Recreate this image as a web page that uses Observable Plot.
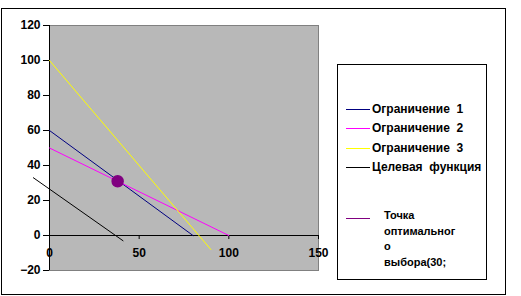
<!DOCTYPE html>
<html>
<head>
<meta charset="utf-8">
<script src="https://cdn.jsdelivr.net/npm/d3@7"></script>
<script src="https://cdn.jsdelivr.net/npm/@observablehq/plot@0.6"></script>
<style>
  html, body { margin: 0; padding: 0; background: #fff; }
  #wrap { position: relative; width: 521px; height: 296px; font-family: "Liberation Sans", Arial, sans-serif; }
  #outer { position: absolute; left: 1px; top: 8px; width: 505px; height: 287px; box-sizing: border-box; border: 1px solid #000; pointer-events: none; }
  #legend { position: absolute; left: 337px; top: 64px; width: 150px; height: 216px; box-sizing: border-box; border: 1px solid #000; background: #fff; }
  .sw { position: absolute; left: 8px; width: 24px; height: 0; border-top: 1px solid; }
  .lt { position: absolute; left: 34px; font-weight: bold; font-size: 12px; white-space: pre; line-height: 14px; color: #000; }
  .lt2 { position: absolute; left: 46px; font-weight: bold; font-size: 11px; line-height: 15.5px; color: #000; }
</style>
</head>
<body>
<div id="wrap"><div id="chart"></div><div id="outer"></div><div id="legend"></div></div>
<script>
const seriesNames = ["Ограничение  1", "Ограничение  2", "Ограничение  3", "Целевая  функция"];
const seriesColors = ["#000080", "#ff00ff", "#ffff00", "#000000"];
const c1X = [0, 80],  c1Y = [60, 0];
const c2X = [0, 100], c2Y = [50, 0];
const c3X = [0, 90],  c3Y = [100, -8];
const objX = [-9, 41], objY = [33, -3];
const optX = [38], optY = [31];
const optName = ["Точка", "оптимальног", "о", "выбора(30;"];
const optColor = "#800080";
const xTicks = [0, 50, 100, 150];
const yTicks = [-20, 0, 20, 40, 60, 80, 100, 120];

const toPts = (xs, ys) => xs.map((x, i) => ({x, y: ys[i]}));
const lines = [toPts(c1X, c1Y), toPts(c2X, c2Y), toPts(c3X, c3Y), toPts(objX, objY)];

const defsMark = () => {
  const g = document.createElementNS("http://www.w3.org/2000/svg", "g");
  g.innerHTML = `<defs><pattern id="halftone" patternUnits="userSpaceOnUse" width="2" height="2">
    <rect width="2" height="2" fill="#a4a4a4"/><rect x="1" y="1" width="1" height="1" fill="#f4f4f4"/></pattern></defs>`;
  return g;
};

const chart = Plot.plot({
  width: 521, height: 296,
  marginLeft: 49, marginRight: 203, marginTop: 25, marginBottom: 26,
  style: {background: "transparent", fontFamily: "'Liberation Sans', Arial, sans-serif", color: "#000", overflow: "visible"},
  x: {domain: [0, 150], axis: null},
  y: {domain: [-20, 120], axis: null},
  marks: [
    defsMark,
    Plot.frame({fill: "url(#halftone)", stroke: null}),
    Plot.frame({stroke: "#808080", strokeWidth: 1, anchor: "top"}),
    Plot.frame({stroke: "#808080", strokeWidth: 1, anchor: "right"}),
    Plot.frame({stroke: "#808080", strokeWidth: 1, anchor: "bottom"}),
    Plot.axisY({ticks: yTicks, label: null, tickSize: 6, tickPadding: 3, fontWeight: "bold", fontSize: 12, stroke: "#000"}),
    Plot.ruleY([0], {stroke: "#000", strokeWidth: 1}),
    Plot.ruleX([0], {stroke: "#000", strokeWidth: 1}),
    Plot.ruleX(xTicks, {x: d => d, y1: 0, y2: -2.3, stroke: "#000"}),
    Plot.text(xTicks, {x: d => d, y: 0, dy: 18, text: d => String(d), fontWeight: "bold", fontSize: 12, fill: "#000"}),
    ...lines.map((pts, i) => Plot.line(pts, {x: "x", y: "y", stroke: seriesColors[i], strokeWidth: 1})),
    Plot.dot(toPts(optX, optY), {x: "x", y: "y", r: 5.5, fill: optColor, stroke: optColor})
  ]
});
document.getElementById("chart").appendChild(chart);

const legend = document.getElementById("legend");
const itemY = [44, 63, 83, 102];
seriesNames.forEach((name, i) => {
  legend.insertAdjacentHTML("beforeend",
    `<div class="sw" style="top:${itemY[i]}px;border-color:${seriesColors[i]}"></div>
     <div class="lt" style="top:${itemY[i] - 7}px">${name}</div>`);
});
legend.insertAdjacentHTML("beforeend",
  `<div class="sw" style="top:153px;border-color:${optColor}"></div>
   <div class="lt2" style="top:143px">${optName.join("<br>")}</div>`);
</script>
</body>
</html>
